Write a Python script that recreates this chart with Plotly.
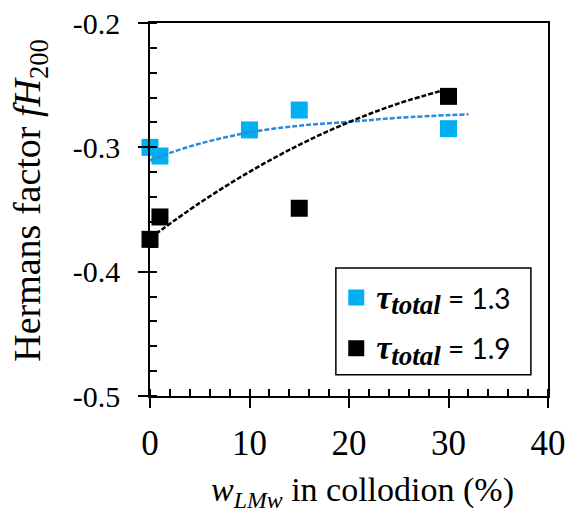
import plotly.graph_objects as go

# measured points (w_LMw in %, Hermans factor)
x_13 = [0, 1, 10, 15, 30]
y_13 = [-0.300, -0.307, -0.286, -0.270, -0.285]
x_19 = [0, 1, 15, 30]
y_19 = [-0.374, -0.356, -0.349, -0.259]

# trendlines
trend_x_13 = [-0.7, 0, 2, 5, 10, 15, 20, 25, 32]
trend_y_13 = [-0.3125, -0.3105, -0.3045, -0.2970, -0.2880, -0.2826, -0.2795, -0.2762, -0.2734]
trend_x_19 = [0, 5, 10, 15, 20, 25, 30]
trend_y_19 = [-0.373, -0.3447, -0.3197, -0.2980, -0.2797, -0.2647, -0.2530]

x_ticks = [0, 10, 20, 30, 40]
y_ticks = [-0.5, -0.4, -0.3, -0.2]

CYAN = "#00B0F0"
CYAN_LINE = "#2B8ADB"
SERIF = "Liberation Serif"

TAU = ("<span style=\"font-family:'Liberation Serif';font-size:34px\"><b><i>τ</i></b></span>"
       "<sub><span style=\"font-family:'Liberation Serif';font-size:27px\"><b><i>total</i></b></span></sub>")

fig = go.Figure()

fig.add_trace(go.Scatter(
    x=x_13, y=y_13, mode="markers", name=TAU + " = 1.3",
    marker=dict(symbol="square", size=17, color=CYAN),
    cliponaxis=False, legend="legend",
))
fig.add_trace(go.Scatter(
    x=x_19, y=y_19, mode="markers", name=TAU + " = 1.9",
    marker=dict(symbol="square", size=17, color="black"),
    cliponaxis=False, legend="legend2",
))

# trendlines on top of the markers
fig.add_trace(go.Scatter(
    x=trend_x_13, y=trend_y_13, mode="lines", line_shape="spline",
    line=dict(color=CYAN_LINE, width=2.5, dash="5px,2px"),
    showlegend=False, cliponaxis=False, hoverinfo="skip",
))
fig.add_trace(go.Scatter(
    x=trend_x_19, y=trend_y_19, mode="lines", line_shape="spline",
    line=dict(color="black", width=2.5, dash="5px,2px"),
    showlegend=False, cliponaxis=False, hoverinfo="skip",
))

axis_common = dict(
    showgrid=False, zeroline=False, showline=True, linecolor="black", linewidth=1.5,
    mirror=True, ticks="outside", ticklen=10, tickwidth=1.5, tickcolor="black",
    automargin=False, ticklabeloverflow="allow",
)

fig.update_layout(
    width=568, height=516,
    margin=dict(l=150, r=20, t=23, b=120),
    paper_bgcolor="white", plot_bgcolor="white",
    font=dict(family=SERIF, color="black"),
    xaxis=dict(
        range=[0, 40], tickvals=x_ticks, ticktext=[str(v) for v in x_ticks],
        tickfont=dict(size=35, family=SERIF), ticklabelstandoff=5,
        minor=dict(dtick=2, ticks="inside", ticklen=7, tickwidth=1.5, tickcolor="black"),
        **axis_common,
    ),
    yaxis=dict(
        range=[-0.5, -0.2], tickvals=y_ticks, ticktext=[str(v) for v in y_ticks],
        tickfont=dict(size=30, family=SERIF), ticklabelstandoff=12,
        minor=dict(dtick=0.02, ticks="inside", ticklen=7, tickwidth=1.5, tickcolor="black"),
        **axis_common,
    ),
    # inward half of the major ticks (they cross the axis line)
    xaxis2=dict(overlaying="x", anchor="y", range=[0, 40], tickvals=x_ticks,
                showticklabels=False, ticks="inside", ticklen=7, tickwidth=1.5,
                tickcolor="black", showgrid=False, zeroline=False, showline=False,
                automargin=False),
    yaxis2=dict(overlaying="y", anchor="x", range=[-0.5, -0.2], tickvals=y_ticks,
                showticklabels=False, ticks="inside", ticklen=7, tickwidth=1.5,
                tickcolor="black", showgrid=False, zeroline=False, showline=False,
                automargin=False),
    legend=dict(x=0.468, xanchor="left", y=0.263, yanchor="middle",
                bgcolor="rgba(0,0,0,0)", borderwidth=0,
                font=dict(family="Lato", size=28, color="black")),
    legend2=dict(x=0.468, xanchor="left", y=0.127, yanchor="middle",
                 bgcolor="rgba(0,0,0,0)", borderwidth=0,
                 font=dict(family="Lato", size=28, color="black")),
    shapes=[dict(type="rect", xref="paper", yref="paper", x0=0.467, x1=0.957,
                 y0=0.057, y1=0.343, line=dict(color="black", width=1.5),
                 fillcolor="white", layer="below")],
    # axis titles as annotations so they sit where the original has them
    annotations=[
        dict(text="<i>w</i><sub><i>LMw</i></sub> in collodion (%)",
             xref="paper", yref="paper", x=0.533, y=0, xanchor="center",
             yanchor="middle", yshift=-96, showarrow=False,
             font=dict(size=34, family=SERIF, color="black")),
        dict(text="Hermans factor <i>fH</i><sub>200</sub>",
             xref="paper", yref="paper", x=-0.30, y=0.525, xanchor="center",
             yanchor="middle", textangle=-90, showarrow=False,
             font=dict(size=38, family=SERIF, color="black")),
    ],
)

# dummy invisible trace so the overlay axes are drawn
fig.add_trace(go.Scatter(x=[None], y=[None], xaxis="x2", yaxis="y2", showlegend=False))

# drop the browser's default body margin so the figure fills the window exactly
fig.write_html("out.html", config={"displayModeBar": False},
               post_script="document.body.style.margin='0';")
